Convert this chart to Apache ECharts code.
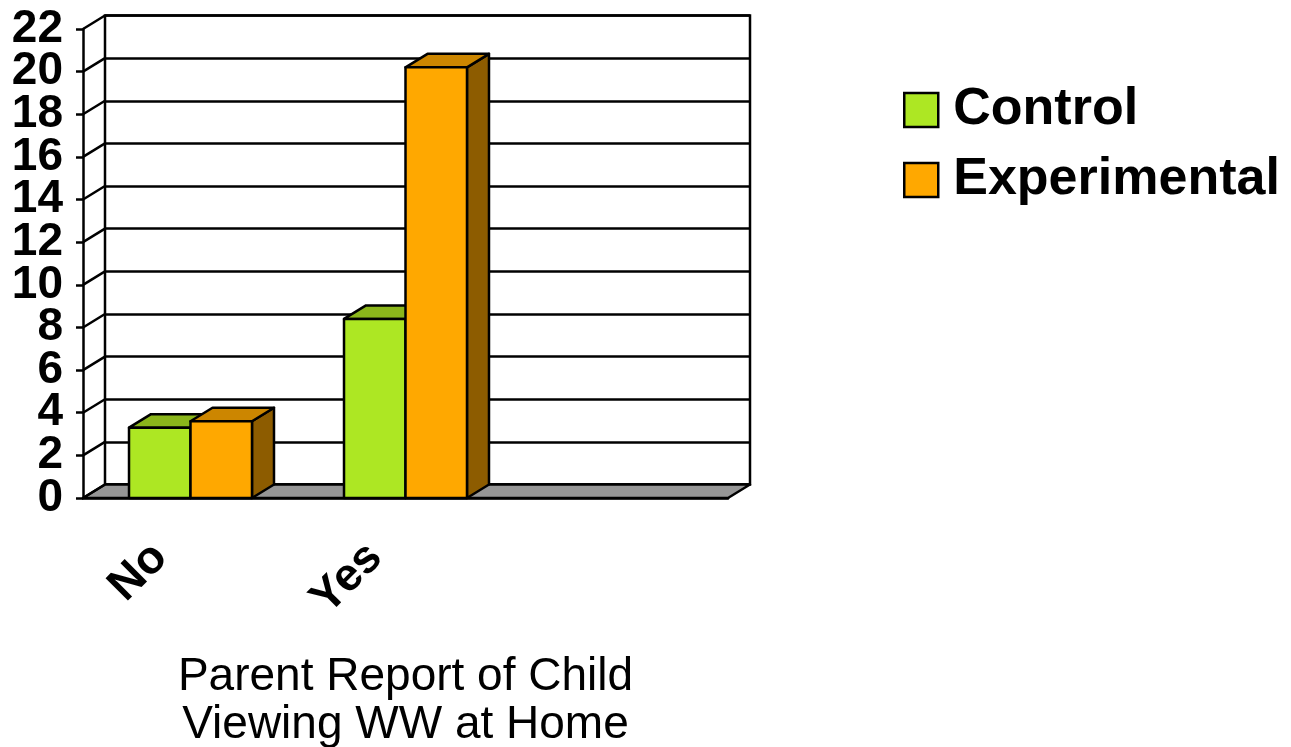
<!DOCTYPE html>
<html>
<head>
<meta charset="utf-8">
<script src="https://cdn.jsdelivr.net/npm/echarts@6/dist/echarts.min.js"></script>
<style>
  html, body { margin: 0; padding: 0; background: #fff; }
  #chart { width: 1291px; height: 747px; }
</style>
</head>
<body>
<div id="chart"></div>
<script>
let categories = ['No', 'Yes', ''];
let controlValues = [3.3, 8.4];
let experimentalValues = [3.6, 20.2];
let yTicks = [0, 2, 4, 6, 8, 10, 12, 14, 16, 18, 20, 22];

// depth offset of the 3d look
let DX = 22;
let DY = -13.5;
let BAR_RATIO = 0.286;
let FONT = '"Liberation Sans", Arial, sans-serif';

let green = { front: '#ade723', top: '#8bb61b', side: '#6b8c14' };
let orange = { front: '#ffa800', top: '#cc8600', side: '#8d5c00' };

let edge = { stroke: '#000', lineWidth: 2.5, lineJoin: 'round' };

let barItem = (side, colors) => (params, api) => {
    let idx = api.value(0);
    let top = api.coord([idx, api.value(1)]);
    let base = api.coord([idx, 0]);
    let w = api.size([1, 0])[0] * BAR_RATIO;
    let x0 = side === 0 ? top[0] - w : top[0];
    let x1 = x0 + w;
    let ty = top[1], by = base[1];
    return {
        type: 'group',
        children: [
            { type: 'polygon', shape: { points: [[x1, ty], [x1 + DX, ty + DY], [x1 + DX, by + DY], [x1, by]] },
              style: Object.assign({ fill: colors.side }, edge) },
            { type: 'polygon', shape: { points: [[x0, ty], [x0 + DX, ty + DY], [x1 + DX, ty + DY], [x1, ty]] },
              style: Object.assign({ fill: colors.top }, edge) },
            { type: 'rect', shape: { x: x0, y: ty, width: w, height: by - ty },
              style: Object.assign({ fill: colors.front }, edge) }
        ]
    };
};

let floorItem = (params, api) => {
    let cs = params.coordSys;
    let yb = cs.y + cs.height;
    return {
        type: 'polygon',
        shape: { points: [[cs.x, yb], [cs.x + cs.width, yb], [cs.x + cs.width + DX, yb + DY], [cs.x + DX, yb + DY]] },
        style: Object.assign({ fill: '#969696' }, edge)
    };
};

let diagItem = (params, api) => {
    let p = api.coord([0, api.value(1)]);
    let x = params.coordSys.x;
    return {
        type: 'line',
        shape: { x1: x, y1: p[1], x2: x + DX, y2: p[1] + DY },
        style: { stroke: '#000', lineWidth: 2.5 }
    };
};

// labels are split over two axes so the big font never gets auto hidden
let yLabel = rest => ({
    fontSize: 46, fontWeight: 'bold', color: '#000', margin: 20, fontFamily: FONT,
    showMinLabel: true, showMaxLabel: true,
    formatter: v => (yTicks.indexOf(v) % 2 === rest ? String(v) : '')
});

let chart = echarts.init(document.getElementById('chart'));

let option = {
    backgroundColor: '#fff',
    animation: false,
    textStyle: { fontFamily: FONT },
    legend: {
        orient: 'vertical',
        left: 903,
        top: 84,
        padding: 0,
        itemWidth: 34,
        itemHeight: 34,
        itemGap: 18,
        icon: 'rect',
        itemStyle: { borderColor: '#000', borderWidth: 2.5 },
        textStyle: { fontSize: 52, fontWeight: 'bold', color: '#000', lineHeight: 34, padding: [0, 0, 0, 10], fontFamily: FONT },
        data: ['Control', 'Experimental']
    },
    grid: [
        { left: 83, top: 29, width: 645, height: 469, outerBoundsMode: 'none', containLabel: false },
        { left: 83 + DX, top: 29 + DY, width: 645, height: 469, outerBoundsMode: 'none', containLabel: false,
          show: true, borderColor: '#000', borderWidth: 2.5, backgroundColor: 'transparent' }
    ],
    xAxis: [
        {
            type: 'category',
            gridIndex: 0,
            data: categories,
            axisLine: { lineStyle: { color: '#000', width: 2.5 } },
            axisTick: { length: 10, lineStyle: { color: '#000', width: 2.5 } },
            axisLabel: {
                rotate: 45, fontSize: 46, fontWeight: 'bold', color: '#000',
                margin: 22, padding: [0, 43, 0, 0], fontFamily: FONT
            },
            name: 'Parent Report of Child\nViewing WW at Home',
            nameLocation: 'middle',
            nameGap: 155,
            nameTextStyle: { fontSize: 46, color: '#000', lineHeight: 48, fontFamily: FONT }
        },
        { type: 'category', gridIndex: 1, data: categories, show: false }
    ],
    yAxis: [
        {
            type: 'value',
            gridIndex: 0,
            position: 'left',
            min: 0, max: 22, interval: 2,
            splitLine: { show: false },
            axisLine: { show: true, lineStyle: { color: '#000', width: 2.5 } },
            axisTick: { show: true, length: 7, lineStyle: { color: '#000', width: 2.5 } },
            axisLabel: yLabel(0)
        },
        {
            type: 'value',
            gridIndex: 1,
            min: 0, max: 22, interval: 2,
            axisLine: { show: false },
            axisTick: { show: false },
            axisLabel: { show: false },
            splitLine: { show: true, lineStyle: { color: '#000', width: 2.5 } }
        },
        {
            type: 'value',
            gridIndex: 0,
            position: 'left',
            offset: 0,
            min: 0, max: 22, interval: 2,
            splitLine: { show: false },
            axisLine: { show: false },
            axisTick: { show: false },
            axisLabel: yLabel(1)
        }
    ],
    series: [
        {
            type: 'custom', xAxisIndex: 0, yAxisIndex: 0, z: 1,
            renderItem: floorItem, data: [[0, 0]], silent: true
        },
        {
            type: 'custom', xAxisIndex: 0, yAxisIndex: 0, z: 1,
            renderItem: diagItem, data: yTicks.map(v => [0, v]), silent: true
        },
        {
            name: 'Control', type: 'custom', xAxisIndex: 0, yAxisIndex: 0, z: 3,
            itemStyle: { color: green.front },
            renderItem: barItem(0, green),
            data: controlValues.map((v, i) => [i, v])
        },
        {
            name: 'Experimental', type: 'custom', xAxisIndex: 0, yAxisIndex: 0, z: 4,
            itemStyle: { color: orange.front },
            renderItem: barItem(1, orange),
            data: experimentalValues.map((v, i) => [i, v])
        }
    ]
};

chart.setOption(option);
</script>
</body>
</html>
